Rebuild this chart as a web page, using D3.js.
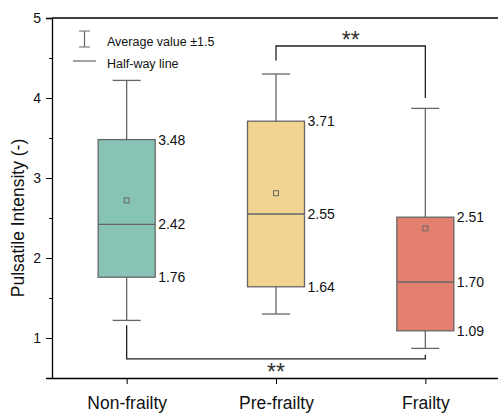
<!DOCTYPE html>
<html>
<head>
<meta charset="utf-8">
<script src="https://cdn.jsdelivr.net/npm/d3@7"></script>
<style>
  body { margin: 0; background: #fff; }
  text { font-family: Arial, "Liberation Sans", sans-serif; }
</style>
</head>
<body>
<div id="chart"></div>
<script>
const W = 498, H = 417;
const margin = {left: 52, right: -2, top: 18, bottom: 39};

// data
const groups = ["Non-frailty", "Pre-frailty", "Frailty"];
const q1 = [1.76, 1.64, 1.09];
const medians = [2.42, 2.55, 1.70];
const q3 = [3.48, 3.71, 2.51];
const whiskLow = [1.22, 1.30, 0.87];
const whiskHigh = [4.22, 4.30, 3.87];
const means = [2.72, 2.81, 2.37];
const colors = ["#88c4b5", "#f2d492", "#e48070"];
const yTicks = [1, 2, 3, 4, 5];
const yMinor = [1.5, 2.5, 3.5, 4.5];

// significance brackets
const brackets = [
    {from: "Pre-frailty", to: "Frailty", level: 4.65, y1: 4.47, y2: 4.0, label: "**", above: true},
    {from: "Non-frailty", to: "Frailty", level: 0.74, y1: 1.16, y2: 0.79, label: "**", above: false}
];

const svg = d3.select("#chart").append("svg")
    .attr("width", W)
    .attr("height", H);

const x = d3.scalePoint()
    .domain(groups)
    .range([margin.left, W - margin.right])
    .padding(0.5);

const y = d3.scaleLinear()
    .domain([0.5, 5])
    .range([H - margin.bottom, margin.top]);

const boxW = 57, capW = 28;
const grey = "#666";

// top frame line
svg.append("line")
    .attr("x1", margin.left).attr("x2", W)
    .attr("y1", y(5)).attr("y2", y(5))
    .attr("stroke", "#000").attr("stroke-width", 1.3);

// y axis
let gy = svg.append("g")
    .attr("transform", `translate(${margin.left},0)`)
    .call(d3.axisLeft(y).tickValues(yTicks).tickSize(6).tickPadding(5).tickFormat(d3.format("d")));
gy.select(".domain").attr("stroke-width", 1.3);
gy.selectAll("text").style("font-size", "14px").attr("fill", "#111");
svg.append("g")
    .attr("transform", `translate(${margin.left},0)`)
    .call(d3.axisLeft(y).tickValues(yMinor).tickSize(3).tickFormat(""))
    .select(".domain").remove();

// x axis
let gx = svg.append("g")
    .attr("transform", `translate(0,${y(0.5)})`)
    .call(d3.axisBottom(x).tickSize(6).tickPadding(13).tickSizeOuter(0));
gx.select(".domain").attr("stroke-width", 1.3);
gx.selectAll("text").style("font-size", "17.5px").attr("fill", "#111");

svg.append("text")
    .attr("transform", `translate(24,${(y(5) + y(0.5)) / 2 + 20}) rotate(-90)`)
    .attr("text-anchor", "middle")
    .style("font-size", "17.5px")
    .attr("fill", "#111")
    .text("Pulsatile Intensity (-)");

// boxes
groups.forEach(function (g, i) {
    const cx = x(g);
    const gb = svg.append("g").attr("class", "box");
    gb.append("line")
        .attr("x1", cx).attr("x2", cx)
        .attr("y1", y(whiskHigh[i])).attr("y2", y(whiskLow[i]))
        .attr("stroke", grey).attr("stroke-width", 1.3);
    [whiskHigh[i], whiskLow[i]].forEach(function (v) {
        gb.append("line")
            .attr("x1", cx - capW / 2).attr("x2", cx + capW / 2)
            .attr("y1", y(v)).attr("y2", y(v))
            .attr("stroke", grey).attr("stroke-width", 1.3);
    });
    gb.append("rect")
        .attr("x", cx - boxW / 2)
        .attr("y", y(q3[i]))
        .attr("width", boxW)
        .attr("height", y(q1[i]) - y(q3[i]))
        .attr("fill", colors[i])
        .attr("stroke", grey).attr("stroke-width", 1.3);
    gb.append("line")
        .attr("x1", cx - boxW / 2).attr("x2", cx + boxW / 2)
        .attr("y1", y(medians[i])).attr("y2", y(medians[i]))
        .attr("stroke", grey).attr("stroke-width", 1.3);
    gb.append("rect")
        .attr("x", cx - 2.5).attr("y", y(means[i]) - 2.5)
        .attr("width", 5).attr("height", 5)
        .attr("fill", "none")
        .attr("stroke", grey).attr("stroke-width", 1);
    [q3[i], medians[i], q1[i]].forEach(function (v) {
        gb.append("text")
            .attr("x", cx + boxW / 2 + 3)
            .attr("y", y(v) + 5)
            .style("font-size", "14px")
            .attr("fill", "#111")
            .text(d3.format(".2f")(v));
    });
});

// significance brackets
brackets.forEach(function (b) {
    const xa = x(b.from), xb = x(b.to);
    svg.append("path")
        .attr("d", `M${xa},${y(b.y1)}V${y(b.level)}H${xb}V${y(b.y2)}`)
        .attr("fill", "none")
        .attr("stroke", "#222").attr("stroke-width", 1.3);
    svg.append("text")
        .attr("x", (xa + xb) / 2)
        .attr("y", b.above ? y(b.level) + 1.5 : y(b.level) + 21.5)
        .attr("text-anchor", "middle")
        .style("font-size", "23px")
        .attr("fill", "#333")
        .text(b.label);
});

// legend
const lg = svg.append("g").attr("id", "legend");
lg.append("path")
    .attr("d", "M79,31H90M84.5,31V47M79,47H90")
    .attr("fill", "none").attr("stroke", grey).attr("stroke-width", 1.2);
lg.append("text")
    .attr("x", 107).attr("y", 46)
    .style("font-size", "12.5px").attr("fill", "#111")
    .text("Average value \u00b11.5");
lg.append("line")
    .attr("x1", 73).attr("x2", 96).attr("y1", 61).attr("y2", 61)
    .attr("stroke", grey).attr("stroke-width", 1.2);
lg.append("text")
    .attr("x", 107).attr("y", 68)
    .style("font-size", "12.5px").attr("fill", "#111")
    .text("Half-way line");
</script>
</body>
</html>
